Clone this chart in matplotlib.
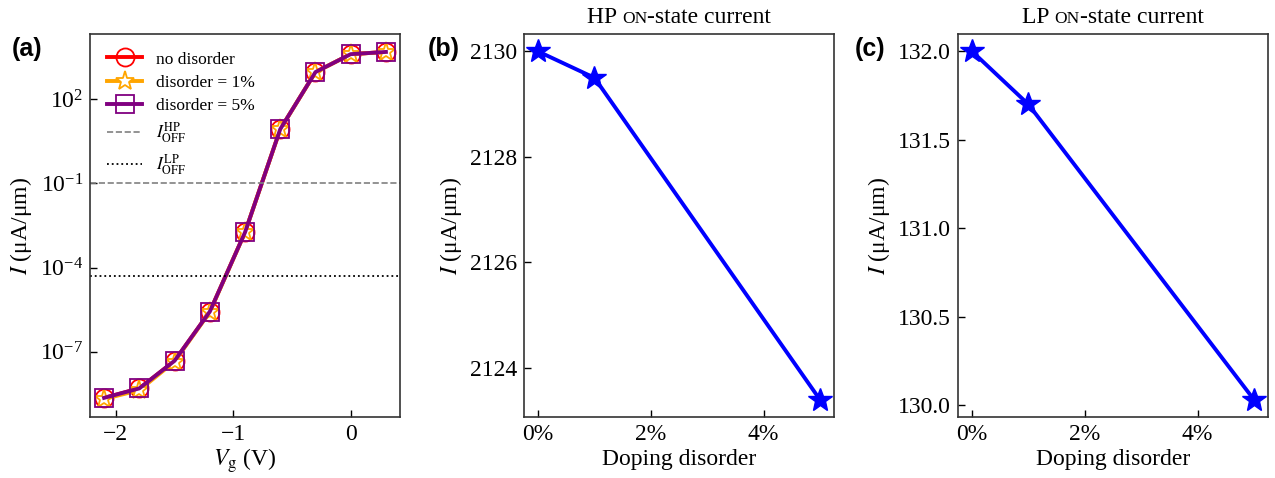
import numpy as np
import matplotlib
matplotlib.use("Agg")
import matplotlib.pyplot as plt
from matplotlib.offsetbox import TextArea, HPacker, AnchoredOffsetbox

plt.rcParams['font.family'] = ['Liberation Serif', 'DejaVu Serif']
plt.rcParams['mathtext.fontset'] = 'stix'
plt.rcParams['font.size'] = 17

# panel (a): transfer curves
vg = [-2.1, -1.8, -1.5, -1.2, -0.9, -0.6, -0.3, 0.0, 0.3]
i_no = [2.3e-9, 5.0e-9, 4.8e-8, 2.7e-6, 1.8e-3, 8.5, 920, 4000, 4800]
i_1 = [2.1e-9, 4.3e-9, 4.5e-8, 2.6e-6, 1.8e-3, 8.4, 915, 3990, 4790]
i_5 = [2.3e-9, 5.0e-9, 4.8e-8, 2.7e-6, 1.8e-3, 8.5, 920, 4000, 4800]
i_off_hp = 0.1
i_off_lp = 5e-5

# panels (b), (c): on-state current vs doping disorder
disorder = [0, 1, 5]
ion_hp = [2130.0, 2129.5, 2123.4]
ion_lp = [132.0, 131.7, 130.03]

fig = plt.figure(figsize=(12.75, 4.78), dpi=100)
W, H = 1275, 478


def add_ax(x0, x1, y0, y1):
    return fig.add_axes([x0 / W, 1 - y1 / H, (x1 - x0) / W, (y1 - y0) / H])


def style(ax):
    ax.tick_params(direction='in', length=5, width=1, labelsize=17, pad=5)
    for s in ax.spines.values():
        s.set_color('#333333')
        s.set_linewidth(1.2)


ax1 = add_ax(90, 400, 34, 417)
ax2 = add_ax(524, 834, 34, 417)
ax3 = add_ax(958, 1268, 34, 417)

lw = 2.8
ax1.plot(vg, i_no, color='red', lw=lw, marker='o', ms=13, mfc='none', mec='red', mew=1.3,
         label='no disorder')
ax1.plot(vg, i_1, color='orange', lw=lw, marker='*', ms=14, mfc='white', mec='orange', mew=1.3,
         label='disorder = 1%')
ax1.plot(vg, i_5, color='purple', lw=lw, marker='s', ms=13.5, mfc='none', mec='purple', mew=1.3,
         label='disorder = 5%')
ax1.axhline(i_off_hp, color='gray', ls='--', lw=1.2, label=r'$I_{\rm OFF}^{\rm HP}$')
ax1.axhline(i_off_lp, color='black', ls=':', lw=1.3, label=r'$I_{\rm OFF}^{\rm LP}$')
ax1.set_yscale('log')
ax1.set_yticks([1e-7, 1e-4, 1e-1, 1e2])
ax1.yaxis.set_minor_locator(matplotlib.ticker.NullLocator())
ax1.set_ylim(10 ** -9.32, 10 ** 4.32)
ax1.set_xlim(-2.22, 0.42)
ax1.set_xticks([-2, -1, 0])
ax1.set_xlabel(r'$V_{\rm g}$ (V)', fontsize=17, labelpad=1)
ax1.set_ylabel(r'$I$ (μA/μm)', fontsize=17)
ax1.legend(loc='upper left', frameon=False, fontsize=12.5, handlelength=2.0,
           borderaxespad=0.6, labelspacing=0.4, handletextpad=0.8)
style(ax1)

for ax, vals, ttl in [(ax2, ion_hp, 'HP'), (ax3, ion_lp, 'LP')]:
    ax.plot(disorder, vals, color='blue', lw=2.8, marker='*', ms=18)
    ax.set_xticks([0, 2, 4])
    ax.set_xticklabels(['0%', '2%', '4%'])
    ax.set_xlabel('Doping disorder', fontsize=17, labelpad=3)
    ax.set_ylabel(r'$I$ (μA/μm)', fontsize=17)
    style(ax)
    parts = HPacker(children=[TextArea(ttl + ' ', textprops=dict(size=17)),
                              TextArea('ON', textprops=dict(size=12.5)),
                              TextArea('-state current', textprops=dict(size=17))],
                    align='baseline', pad=0, sep=0)
    box = AnchoredOffsetbox(loc='lower center', child=parts, frameon=False,
                            bbox_to_anchor=(0.5, 1.015), bbox_transform=ax.transAxes,
                            borderpad=0, pad=0)
    ax.add_artist(box)

ax2.set_yticks([2124, 2126, 2128, 2130])
ax3.set_yticks([130.0, 130.5, 131.0, 131.5, 132.0])

for lab, x in [('(a)', 12), ('(b)', 428), ('(c)', 855)]:
    fig.text(x / W, 1 - 49 / H, lab, fontsize=18, fontweight='bold',
             family='Liberation Sans', va='center')

fig.savefig('out.png', dpi=100)
